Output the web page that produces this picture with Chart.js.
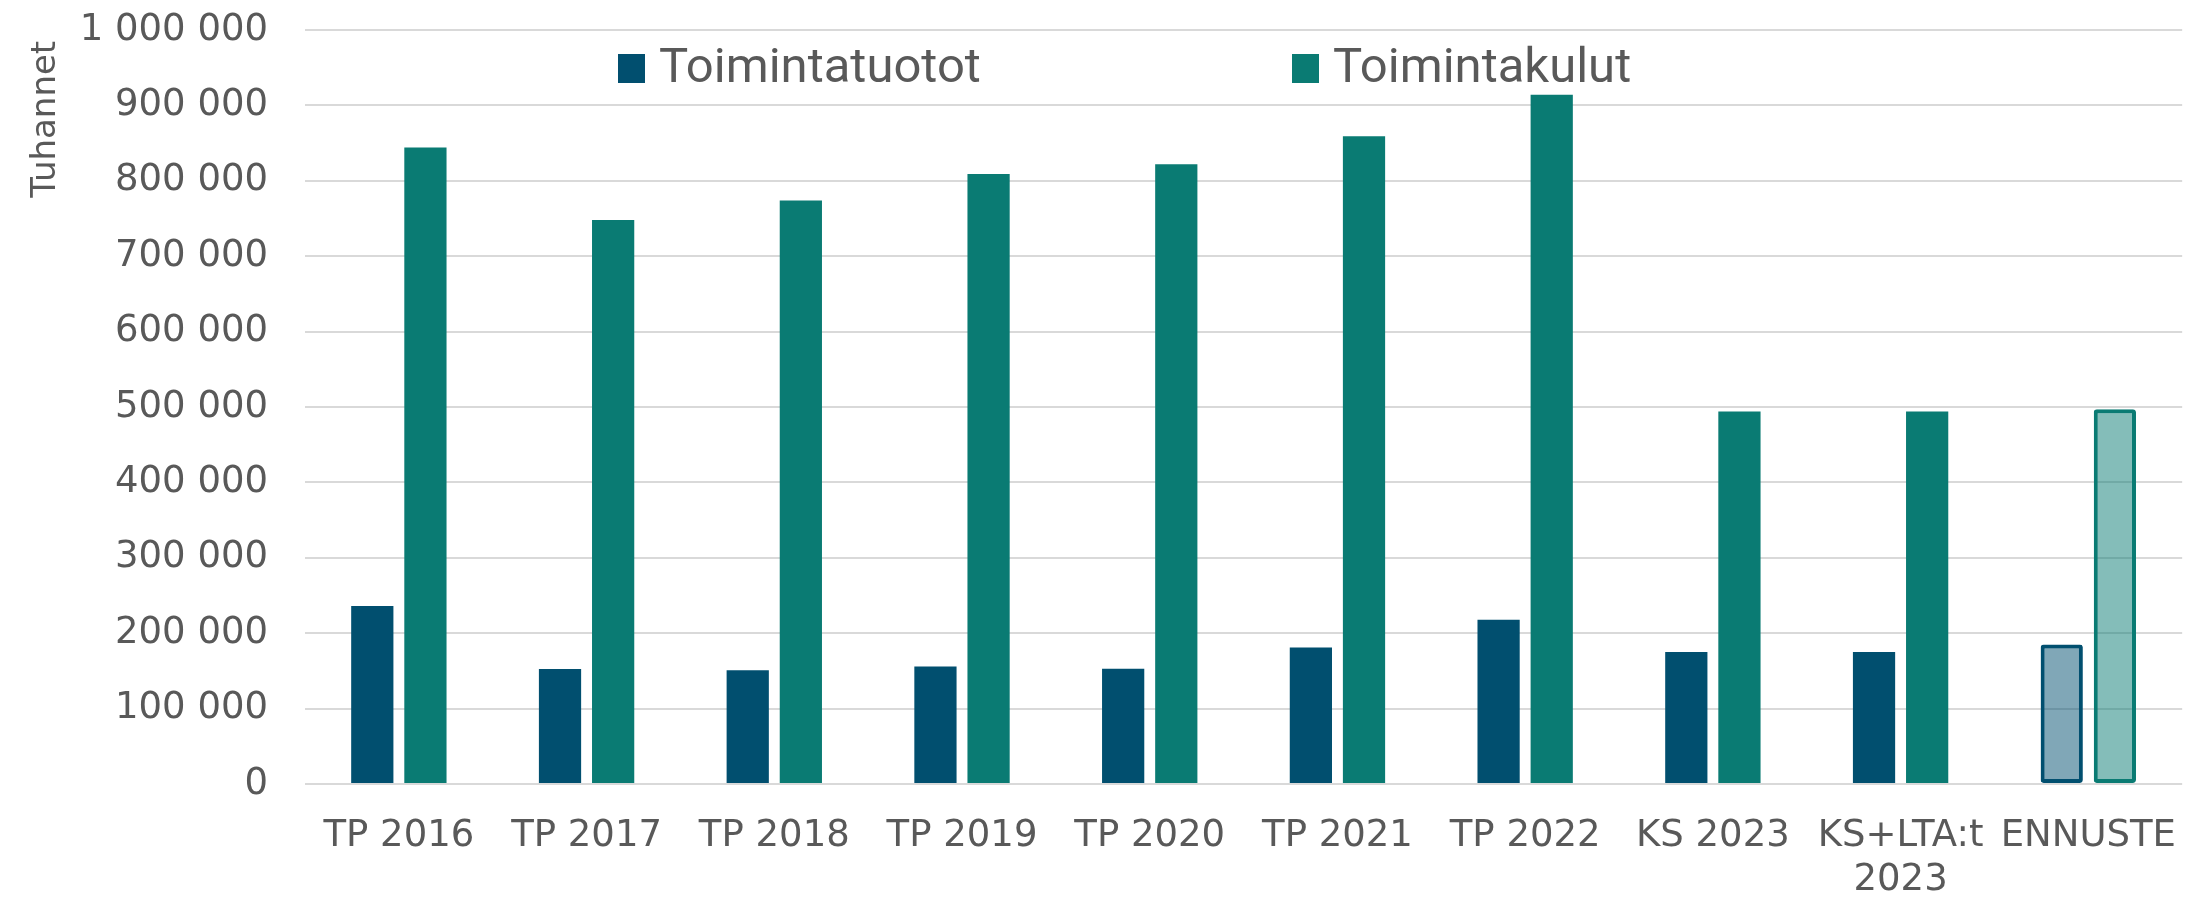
<!DOCTYPE html>
<html>
<head>
<meta charset="utf-8">
<script src="https://cdn.jsdelivr.net/npm/chart.js@4.4.1/dist/chart.umd.min.js"></script>
<style>
  body { margin: 0; background: #fff; }
  #wrap { position: relative; width: 2198px; height: 902px; }
  .legend-item { position: absolute; top: 42px; height: 48px; font: 49px Roboto, sans-serif; line-height: 48px; color: #595959; white-space: nowrap; }
  .legend-item .box { position: absolute; left: 0; top: 12px; width: 27px; height: 29px; }
  .legend-item .txt { position: absolute; left: 41px; top: 0; }
</style>
</head>
<body>
<div id="wrap">
  <canvas id="chart"></canvas>
  <div id="legend"></div>
</div>
<script>
// data (thousands of euros)
const categories = ['TP 2016', 'TP 2017', 'TP 2018', 'TP 2019', 'TP 2020', 'TP 2021', 'TP 2022', 'KS 2023', ['KS+LTA:t', '2023'], 'ENNUSTE'];
const toimintatuotot = [236000, 152500, 151000, 156000, 153000, 181000, 218000, 175000, 175000, 185000];
const toimintakulut = [844000, 748000, 774000, 809000, 822000, 859000, 914000, 494000, 494000, 497000];
const forecast = [false, false, false, false, false, false, false, false, false, true];
const yTicks = [0, 100000, 200000, 300000, 400000, 500000, 600000, 700000, 800000, 900000, 1000000];

const DARK = '#014f6f';
const TEAL = '#0a7b73';
const DARK_LIGHT = 'rgba(1, 79, 111, 0.5)';
const TEAL_LIGHT = 'rgba(10, 123, 115, 0.5)';
const TEXT = '#595959';

function fmt(v) {
  return String(v).replace(/\B(?=(\d{3})+(?!\d))/g, ' ');
}

const datasets = [
  {
    label: 'Toimintatuotot',
    data: toimintatuotot,
    backgroundColor: forecast.map(f => f ? DARK_LIGHT : DARK),
    borderColor: DARK,
    borderWidth: forecast.map(f => f ? 4 : 0),
    borderRadius: forecast.map(f => f ? 3 : 0),
    borderSkipped: false,
  },
  {
    label: 'Toimintakulut',
    data: toimintakulut,
    backgroundColor: forecast.map(f => f ? TEAL_LIGHT : TEAL),
    borderColor: TEAL,
    borderWidth: forecast.map(f => f ? 4 : 0),
    borderRadius: forecast.map(f => f ? 3 : 0),
    borderSkipped: false,
  },
];

const chart = new Chart(document.getElementById('chart'), {
  type: 'bar',
  data: { labels: categories, datasets: datasets },
  options: {
    responsive: true,
    maintainAspectRatio: false,
    animation: false,
    categoryPercentage: 0.566,
    barPercentage: 0.795,
    layout: { padding: { top: 30, right: 1, left: 0, bottom: 0 } },
    plugins: {
      legend: { display: false },
      tooltip: { enabled: false },
    },
    scales: {
      x: {
        grid: { display: false },
        border: { display: false },
        afterFit: (scale) => { scale.height = 118; },
        ticks: {
          color: TEXT,
          font: { family: 'DejaVu Sans', size: 37, lineHeight: 1.2 },
          padding: 22,
          maxRotation: 0,
          autoSkip: false,
        },
      },
      y: {
        min: 0,
        max: 1000000,
        afterBuildTicks: (scale) => { scale.ticks = yTicks.map(v => ({ value: v })); },
        afterFit: (scale) => {
          scale.width = 305;
          scale.paddingTop = 0;
          scale.paddingBottom = 0;
        },
        grid: { color: '#d9d9d9', lineWidth: 2, drawTicks: false },
        border: { display: false },
        ticks: {
          color: TEXT,
          font: { family: 'DejaVu Sans', size: 37 },
          padding: 37,
          callback: (v) => fmt(v),
        },
        title: {
          display: true,
          text: 'Tuhannet ',
          color: TEXT,
          align: 'end',
          font: { family: 'DejaVu Sans', size: 34, lineHeight: 1.2 },
          padding: { top: 26, bottom: 0 },
        },
      },
    },
  },
});

// legend overlaid inside the plot, built from the datasets
const legendLeft = [618, 1292];
const legend = document.getElementById('legend');
chart.data.datasets.forEach((ds, i) => {
  const item = document.createElement('div');
  item.className = 'legend-item';
  item.style.left = legendLeft[i] + 'px';
  const box = document.createElement('span');
  box.className = 'box';
  box.style.background = ds.borderColor;
  const txt = document.createElement('span');
  txt.className = 'txt';
  txt.textContent = ds.label;
  item.appendChild(box);
  item.appendChild(txt);
  legend.appendChild(item);
});
</script>
</body>
</html>
